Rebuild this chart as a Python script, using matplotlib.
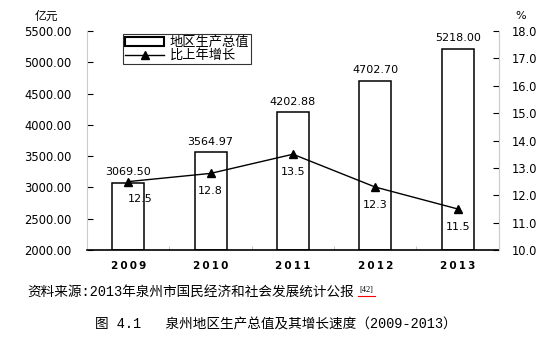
import numpy as np
import matplotlib.pyplot as plt
from matplotlib.lines import Line2D
from matplotlib.patches import Patch

plt.rcParams['font.family'] = ['DejaVu Sans', 'Noto Sans CJK SC']

# data
years = ["2009", "2010", "2011", "2012", "2013"]
gdp = [3069.50, 3564.97, 4202.88, 4702.70, 5218.00]
growth = [12.5, 12.8, 13.5, 12.3, 11.5]

cjk = ['Noto Sans CJK SC', 'DejaVu Sans']
mono_cjk = ['Liberation Mono', 'Noto Sans CJK SC']

fig = plt.figure(figsize=(5.44, 3.42), dpi=100)
ax = fig.add_axes([0.160, 0.269, 0.757, 0.640])
x = np.arange(len(years))

# bars
ax.bar(x, [v - 2000 for v in gdp], bottom=2000, width=0.39,
       color="white", edgecolor="black", linewidth=1.1, zorder=2)
for xi, v in zip(x, gdp):
    ax.text(xi, v + 90, "%.2f" % v, ha="center", va="bottom", fontsize=8)

ax.set_xlim(-0.5, 4.5)
ax.set_ylim(2000, 5500)
ax.set_yticks(np.arange(2000, 5501, 500))
ax.set_yticklabels(["%.2f" % t for t in np.arange(2000, 5501, 500)], fontsize=8.3)
ax.set_xticks(x)
ax.set_xticklabels(["\u2009".join(list(y)) for y in years],
                   fontsize=7.5, fontweight="bold")
ax.set_xticks(np.arange(0.5, 4.5, 1), minor=True)
ax.tick_params(axis="x", which="major", length=0, pad=8)
ax.tick_params(axis="x", which="minor", direction="in", length=3, color="#bbbbbb")
ax.tick_params(axis="y", direction="in", length=4, pad=11)

ax.spines["top"].set_visible(False)
ax.spines["left"].set_color("#cccccc")
ax.spines["right"].set_color("#cccccc")
ax.spines["bottom"].set_linewidth(1.2)

# growth line on right axis
ax2 = ax.twinx()
ax2.plot(x, growth, color="black", linewidth=1.0, marker="^", markersize=6, zorder=3)
offsets = [0.15, 0, 0, 0, 0]
for xi, g, dx in zip(x, growth, offsets):
    ax2.text(xi + dx, g - 0.65, "%.1f" % g, ha="center", va="center", fontsize=8)
ax2.set_ylim(10, 18)
ax2.set_yticks(np.arange(10, 18.1, 1))
ax2.set_yticklabels(["%.1f" % t for t in np.arange(10, 18.1, 1)], fontsize=8.3)
ax2.tick_params(axis="y", direction="in", length=4, pad=9)
for s in ["top", "left", "bottom"]:
    ax2.spines[s].set_visible(False)
ax2.spines["right"].set_color("#cccccc")

# units
fig.text(46 / 544, 1 - 16 / 342, "亿元", family=cjk, fontsize=8.5, ha="center", va="center")
fig.text(521 / 544, 1 - 16 / 342, "%", fontsize=8, ha="center", va="center")

# legend
handles = [Patch(facecolor="white", edgecolor="black", linewidth=1.5),
           Line2D([0], [0], color="black", marker="^", markersize=6, linewidth=1.0)]
leg = ax.legend(handles, ["地区生产总值", "比上年增长"], loc="upper left",
                bbox_to_anchor=(0.087, 0.986), prop={"family": cjk, "size": 9.5},
                frameon=True, fancybox=False, borderpad=0.15, labelspacing=0.0,
                handlelength=3.0, handletextpad=0.4, borderaxespad=0)
leg.get_frame().set_edgecolor("black")
leg.get_frame().set_linewidth(0.8)

# source and caption
fig.text(27 / 544, 1 - 293 / 342, "资料来源:2013年泉州市国民经济和社会发展统计公报",
         family=mono_cjk, fontsize=9.8, ha="left", va="center")
fig.text(366 / 544, 1 - 290 / 342, "[42]", fontsize=6, family="Liberation Serif",
         ha="center", va="center")
fig.add_artist(Line2D([358 / 544, 375 / 544], [1 - 296 / 342, 1 - 296 / 342],
                      color="red", linewidth=0.8))
fig.text(276 / 544, 1 - 325 / 342, "图 4.1   泉州地区生产总值及其增长速度（2009-2013）",
         family=mono_cjk, fontsize=9.8, ha="center", va="center")

fig.savefig("out.png", dpi=100)
